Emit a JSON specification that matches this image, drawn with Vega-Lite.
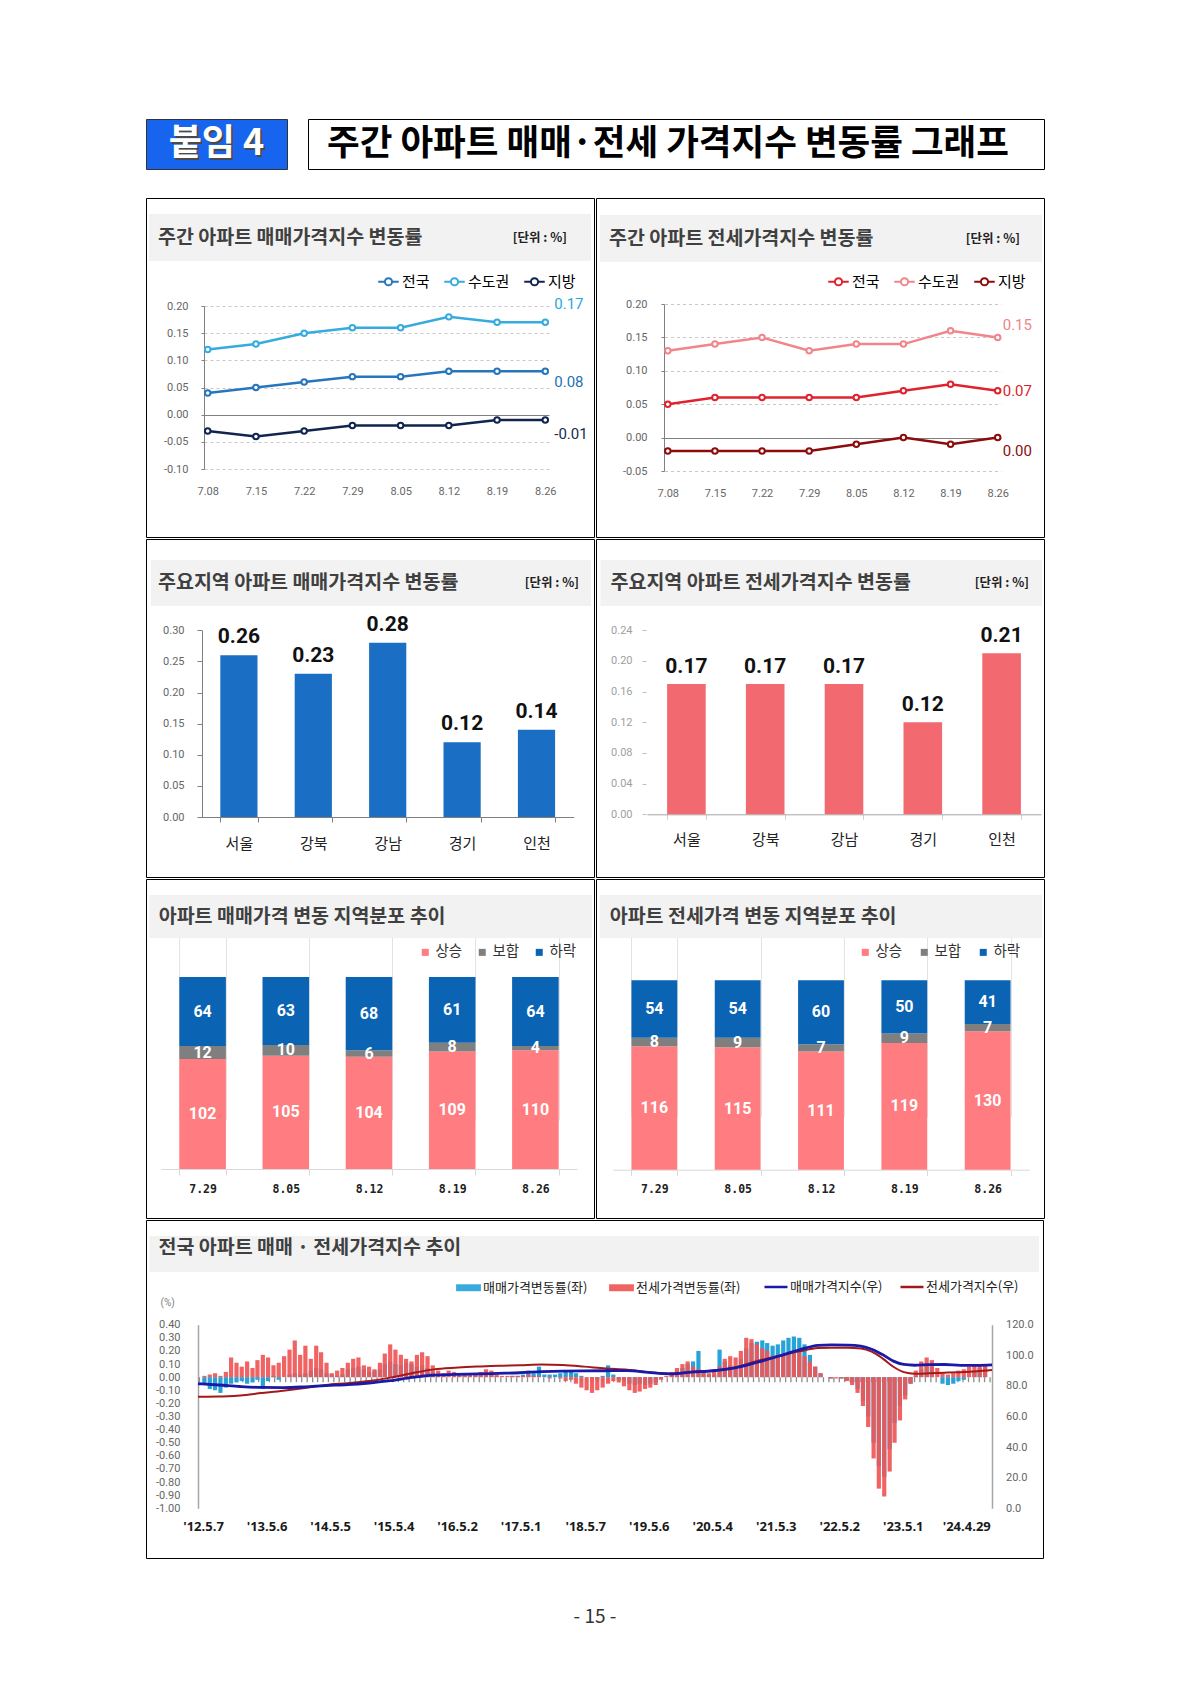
{
  "$schema": "https://vega.github.io/schema/vega-lite/v6.json",
  "padding": {"left": 145, "top": 118, "right": 5, "bottom": 5},
  "background": "white",
  "title": {"text": "- 15 -", "orient": "bottom", "anchor": "middle", "offset": 49, "fontSize": 19, "fontWeight": "normal", "font": "Noto Sans CJK KR", "color": "#333333", "baseline": "top"},
  "config": {
    "view": {"stroke": "#000000", "strokeWidth": 1},
    "font": "Noto Sans CJK KR",
    "locale": {"number": {"decimal": ".", "thousands": ",", "grouping": [3], "currency": ["", ""], "minus": "-"}},
    "axis": {"labelOverlap": false, "labelFlush": false, "labelFont": "Roboto"},
    "legend": {"labelFont": "Noto Sans CJK KR", "padding": 0}
  },
  "resolve": {"scale": {"color": "independent", "stroke": "independent"}, "legend": {"color": "independent", "stroke": "independent"}},
  "datasets": {
    "p1": [
      {"w": "7.08", "g": "전국", "v": 0.04}, {"w": "7.15", "g": "전국", "v": 0.05}, {"w": "7.22", "g": "전국", "v": 0.06}, {"w": "7.29", "g": "전국", "v": 0.07},
      {"w": "8.05", "g": "전국", "v": 0.07}, {"w": "8.12", "g": "전국", "v": 0.08}, {"w": "8.19", "g": "전국", "v": 0.08}, {"w": "8.26", "g": "전국", "v": 0.08},
      {"w": "7.08", "g": "수도권", "v": 0.12}, {"w": "7.15", "g": "수도권", "v": 0.13}, {"w": "7.22", "g": "수도권", "v": 0.15}, {"w": "7.29", "g": "수도권", "v": 0.16},
      {"w": "8.05", "g": "수도권", "v": 0.16}, {"w": "8.12", "g": "수도권", "v": 0.18}, {"w": "8.19", "g": "수도권", "v": 0.17}, {"w": "8.26", "g": "수도권", "v": 0.17},
      {"w": "7.08", "g": "지방", "v": -0.03}, {"w": "7.15", "g": "지방", "v": -0.04}, {"w": "7.22", "g": "지방", "v": -0.03}, {"w": "7.29", "g": "지방", "v": -0.02},
      {"w": "8.05", "g": "지방", "v": -0.02}, {"w": "8.12", "g": "지방", "v": -0.02}, {"w": "8.19", "g": "지방", "v": -0.01}, {"w": "8.26", "g": "지방", "v": -0.01}
    ],
    "p2": [
      {"w": "7.08", "g": "전국", "v": 0.05}, {"w": "7.15", "g": "전국", "v": 0.06}, {"w": "7.22", "g": "전국", "v": 0.06}, {"w": "7.29", "g": "전국", "v": 0.06},
      {"w": "8.05", "g": "전국", "v": 0.06}, {"w": "8.12", "g": "전국", "v": 0.07}, {"w": "8.19", "g": "전국", "v": 0.08}, {"w": "8.26", "g": "전국", "v": 0.07},
      {"w": "7.08", "g": "수도권", "v": 0.13}, {"w": "7.15", "g": "수도권", "v": 0.14}, {"w": "7.22", "g": "수도권", "v": 0.15}, {"w": "7.29", "g": "수도권", "v": 0.13},
      {"w": "8.05", "g": "수도권", "v": 0.14}, {"w": "8.12", "g": "수도권", "v": 0.14}, {"w": "8.19", "g": "수도권", "v": 0.16}, {"w": "8.26", "g": "수도권", "v": 0.15},
      {"w": "7.08", "g": "지방", "v": -0.02}, {"w": "7.15", "g": "지방", "v": -0.02}, {"w": "7.22", "g": "지방", "v": -0.02}, {"w": "7.29", "g": "지방", "v": -0.02},
      {"w": "8.05", "g": "지방", "v": -0.01}, {"w": "8.12", "g": "지방", "v": 0.0}, {"w": "8.19", "g": "지방", "v": -0.01}, {"w": "8.26", "g": "지방", "v": 0.0}
    ],
    "p3": [
      {"r": "서울", "v": 0.26}, {"r": "강북", "v": 0.23}, {"r": "강남", "v": 0.28}, {"r": "경기", "v": 0.12}, {"r": "인천", "v": 0.14}
    ],
    "p4": [
      {"r": "서울", "v": 0.17}, {"r": "강북", "v": 0.17}, {"r": "강남", "v": 0.17}, {"r": "경기", "v": 0.12}, {"r": "인천", "v": 0.21}
    ],
    "p5": [
      {"d": "7.29", "c": "상승", "n": 102}, {"d": "7.29", "c": "보합", "n": 12}, {"d": "7.29", "c": "하락", "n": 64},
      {"d": "8.05", "c": "상승", "n": 105}, {"d": "8.05", "c": "보합", "n": 10}, {"d": "8.05", "c": "하락", "n": 63},
      {"d": "8.12", "c": "상승", "n": 104}, {"d": "8.12", "c": "보합", "n": 6}, {"d": "8.12", "c": "하락", "n": 68},
      {"d": "8.19", "c": "상승", "n": 109}, {"d": "8.19", "c": "보합", "n": 8}, {"d": "8.19", "c": "하락", "n": 61},
      {"d": "8.26", "c": "상승", "n": 110}, {"d": "8.26", "c": "보합", "n": 4}, {"d": "8.26", "c": "하락", "n": 64}
    ],
    "p6": [
      {"d": "7.29", "c": "상승", "n": 116}, {"d": "7.29", "c": "보합", "n": 8}, {"d": "7.29", "c": "하락", "n": 54},
      {"d": "8.05", "c": "상승", "n": 115}, {"d": "8.05", "c": "보합", "n": 9}, {"d": "8.05", "c": "하락", "n": 54},
      {"d": "8.12", "c": "상승", "n": 111}, {"d": "8.12", "c": "보합", "n": 7}, {"d": "8.12", "c": "하락", "n": 60},
      {"d": "8.19", "c": "상승", "n": 119}, {"d": "8.19", "c": "보합", "n": 9}, {"d": "8.19", "c": "하락", "n": 50},
      {"d": "8.26", "c": "상승", "n": 130}, {"d": "8.26", "c": "보합", "n": 7}, {"d": "8.26", "c": "하락", "n": 41}
    ],
    "bars": [
      {"d": "2012-05-15", "s": -0.06, "j": 0.01}, {"d": "2012-06-15", "s": -0.09, "j": 0.02}, {"d": "2012-07-15", "s": -0.10, "j": 0.03}, {"d": "2012-08-15", "s": -0.12, "j": 0.01},
      {"d": "2012-09-15", "s": -0.08, "j": 0.04}, {"d": "2012-10-15", "s": -0.05, "j": 0.15}, {"d": "2012-11-15", "s": -0.04, "j": 0.11}, {"d": "2012-12-15", "s": -0.03, "j": 0.08},
      {"d": "2013-01-15", "s": -0.05, "j": 0.12}, {"d": "2013-02-15", "s": -0.04, "j": 0.07}, {"d": "2013-03-15", "s": -0.02, "j": 0.13}, {"d": "2013-04-15", "s": -0.09, "j": 0.17},
      {"d": "2013-05-15", "s": -0.03, "j": 0.15}, {"d": "2013-06-15", "s": 0.01, "j": 0.09}, {"d": "2013-07-15", "s": -0.02, "j": 0.11}, {"d": "2013-08-15", "s": 0.0, "j": 0.16},
      {"d": "2013-09-15", "s": 0.02, "j": 0.21}, {"d": "2013-10-15", "s": 0.03, "j": 0.28}, {"d": "2013-11-15", "s": 0.02, "j": 0.17}, {"d": "2013-12-15", "s": 0.03, "j": 0.24},
      {"d": "2014-01-15", "s": 0.05, "j": 0.14}, {"d": "2014-02-15", "s": 0.07, "j": 0.24}, {"d": "2014-03-15", "s": 0.06, "j": 0.19}, {"d": "2014-04-15", "s": 0.03, "j": 0.11},
      {"d": "2014-05-15", "s": 0.02, "j": 0.03}, {"d": "2014-06-15", "s": 0.01, "j": 0.05}, {"d": "2014-07-15", "s": 0.02, "j": 0.07}, {"d": "2014-08-15", "s": 0.06, "j": 0.11},
      {"d": "2014-09-15", "s": 0.07, "j": 0.14}, {"d": "2014-10-15", "s": 0.08, "j": 0.15}, {"d": "2014-11-15", "s": 0.06, "j": 0.09}, {"d": "2014-12-15", "s": 0.04, "j": 0.08},
      {"d": "2015-01-15", "s": 0.05, "j": 0.06}, {"d": "2015-02-15", "s": 0.06, "j": 0.11}, {"d": "2015-03-15", "s": 0.10, "j": 0.18}, {"d": "2015-04-15", "s": 0.12, "j": 0.25},
      {"d": "2015-05-15", "s": 0.10, "j": 0.21}, {"d": "2015-06-15", "s": 0.09, "j": 0.17}, {"d": "2015-07-15", "s": 0.11, "j": 0.14}, {"d": "2015-08-15", "s": 0.10, "j": 0.12},
      {"d": "2015-09-15", "s": 0.08, "j": 0.17}, {"d": "2015-10-15", "s": 0.09, "j": 0.19}, {"d": "2015-11-15", "s": 0.07, "j": 0.16}, {"d": "2015-12-15", "s": 0.04, "j": 0.09},
      {"d": "2016-01-15", "s": 0.02, "j": 0.05}, {"d": "2016-02-15", "s": 0.01, "j": 0.03}, {"d": "2016-03-15", "s": 0.0, "j": 0.05}, {"d": "2016-04-15", "s": 0.01, "j": 0.04},
      {"d": "2016-05-15", "s": 0.02, "j": 0.03}, {"d": "2016-06-15", "s": 0.03, "j": 0.03}, {"d": "2016-07-15", "s": 0.02, "j": 0.02}, {"d": "2016-08-15", "s": 0.02, "j": 0.03},
      {"d": "2016-09-15", "s": 0.02, "j": 0.04}, {"d": "2016-10-15", "s": 0.04, "j": 0.06}, {"d": "2016-11-15", "s": 0.03, "j": 0.05}, {"d": "2016-12-15", "s": 0.01, "j": 0.02},
      {"d": "2017-01-15", "s": 0.0, "j": 0.01}, {"d": "2017-02-15", "s": 0.0, "j": 0.01}, {"d": "2017-03-15", "s": 0.01, "j": 0.01}, {"d": "2017-04-15", "s": 0.01, "j": 0.01},
      {"d": "2017-05-15", "s": 0.02, "j": 0.01}, {"d": "2017-06-15", "s": 0.05, "j": 0.02}, {"d": "2017-07-15", "s": 0.03, "j": 0.01}, {"d": "2017-08-15", "s": 0.08, "j": 0.01},
      {"d": "2017-09-15", "s": 0.02, "j": 0.0}, {"d": "2017-10-15", "s": 0.02, "j": -0.01}, {"d": "2017-11-15", "s": 0.02, "j": 0.0}, {"d": "2017-12-15", "s": 0.03, "j": -0.01},
      {"d": "2018-01-15", "s": 0.04, "j": -0.03}, {"d": "2018-02-15", "s": 0.05, "j": -0.02}, {"d": "2018-03-15", "s": 0.03, "j": -0.05}, {"d": "2018-04-15", "s": 0.01, "j": -0.08},
      {"d": "2018-05-15", "s": 0.0, "j": -0.10}, {"d": "2018-06-15", "s": -0.01, "j": -0.12}, {"d": "2018-07-15", "s": -0.02, "j": -0.10}, {"d": "2018-08-15", "s": 0.01, "j": -0.08},
      {"d": "2018-09-15", "s": 0.09, "j": -0.05}, {"d": "2018-10-15", "s": 0.02, "j": -0.03}, {"d": "2018-11-15", "s": -0.02, "j": -0.04}, {"d": "2018-12-15", "s": -0.03, "j": -0.07},
      {"d": "2019-01-15", "s": -0.05, "j": -0.10}, {"d": "2019-02-15", "s": -0.06, "j": -0.12}, {"d": "2019-03-15", "s": -0.05, "j": -0.11}, {"d": "2019-04-15", "s": -0.06, "j": -0.09},
      {"d": "2019-05-15", "s": -0.05, "j": -0.08}, {"d": "2019-06-15", "s": -0.04, "j": -0.06}, {"d": "2019-07-15", "s": -0.01, "j": -0.02}, {"d": "2019-08-15", "s": 0.0, "j": 0.01},
      {"d": "2019-09-15", "s": 0.02, "j": 0.04}, {"d": "2019-10-15", "s": 0.05, "j": 0.07}, {"d": "2019-11-15", "s": 0.07, "j": 0.10}, {"d": "2019-12-15", "s": 0.10, "j": 0.12},
      {"d": "2020-01-15", "s": 0.12, "j": 0.08}, {"d": "2020-02-15", "s": 0.20, "j": 0.06}, {"d": "2020-03-15", "s": 0.05, "j": 0.05}, {"d": "2020-04-15", "s": 0.02, "j": 0.03},
      {"d": "2020-05-15", "s": 0.02, "j": 0.05}, {"d": "2020-06-15", "s": 0.21, "j": 0.08}, {"d": "2020-07-15", "s": 0.12, "j": 0.14}, {"d": "2020-08-15", "s": 0.09, "j": 0.16},
      {"d": "2020-09-15", "s": 0.08, "j": 0.15}, {"d": "2020-10-15", "s": 0.14, "j": 0.20}, {"d": "2020-11-15", "s": 0.22, "j": 0.30}, {"d": "2020-12-15", "s": 0.26, "j": 0.29},
      {"d": "2021-01-15", "s": 0.27, "j": 0.25}, {"d": "2021-02-15", "s": 0.28, "j": 0.22}, {"d": "2021-03-15", "s": 0.26, "j": 0.20}, {"d": "2021-04-15", "s": 0.24, "j": 0.16},
      {"d": "2021-05-15", "s": 0.25, "j": 0.15}, {"d": "2021-06-15", "s": 0.28, "j": 0.17}, {"d": "2021-07-15", "s": 0.30, "j": 0.18}, {"d": "2021-08-15", "s": 0.31, "j": 0.20},
      {"d": "2021-09-15", "s": 0.30, "j": 0.19}, {"d": "2021-10-15", "s": 0.25, "j": 0.16}, {"d": "2021-11-15", "s": 0.17, "j": 0.12}, {"d": "2021-12-15", "s": 0.08, "j": 0.08},
      {"d": "2022-01-15", "s": 0.03, "j": 0.03}, {"d": "2022-02-15", "s": 0.0, "j": 0.0}, {"d": "2022-03-15", "s": -0.01, "j": -0.01}, {"d": "2022-04-15", "s": 0.0, "j": -0.01},
      {"d": "2022-05-15", "s": -0.01, "j": -0.01}, {"d": "2022-06-15", "s": -0.02, "j": -0.03}, {"d": "2022-07-15", "s": -0.04, "j": -0.06}, {"d": "2022-08-15", "s": -0.09, "j": -0.12},
      {"d": "2022-09-15", "s": -0.18, "j": -0.22}, {"d": "2022-10-15", "s": -0.30, "j": -0.38}, {"d": "2022-11-15", "s": -0.50, "j": -0.62}, {"d": "2022-12-15", "s": -0.68, "j": -0.85},
      {"d": "2023-01-15", "s": -0.76, "j": -0.91}, {"d": "2023-02-15", "s": -0.55, "j": -0.72}, {"d": "2023-03-15", "s": -0.35, "j": -0.50}, {"d": "2023-04-15", "s": -0.22, "j": -0.33},
      {"d": "2023-05-15", "s": -0.14, "j": -0.17}, {"d": "2023-06-15", "s": -0.05, "j": -0.05}, {"d": "2023-07-15", "s": 0.01, "j": 0.05}, {"d": "2023-08-15", "s": 0.06, "j": 0.12},
      {"d": "2023-09-15", "s": 0.09, "j": 0.15}, {"d": "2023-10-15", "s": 0.08, "j": 0.13}, {"d": "2023-11-15", "s": 0.0, "j": 0.07}, {"d": "2023-12-15", "s": -0.05, "j": 0.03},
      {"d": "2024-01-15", "s": -0.06, "j": 0.02}, {"d": "2024-02-15", "s": -0.05, "j": 0.03}, {"d": "2024-03-15", "s": -0.03, "j": 0.05}, {"d": "2024-04-15", "s": -0.02, "j": 0.06},
      {"d": "2024-05-15", "s": 0.0, "j": 0.08}, {"d": "2024-06-15", "s": 0.04, "j": 0.09}, {"d": "2024-07-15", "s": 0.07, "j": 0.10}, {"d": "2024-08-15", "s": 0.08, "j": 0.10}
    ],
    "idx": [
      {"d": "2012-05-07", "si": 81.4, "ji": 72.9}, {"d": "2012-09-01", "si": 80.6, "ji": 73.0}, {"d": "2013-01-01", "si": 79.6, "ji": 73.8},
      {"d": "2013-05-01", "si": 79.0, "ji": 75.3}, {"d": "2013-09-01", "si": 78.9, "ji": 76.8}, {"d": "2014-01-01", "si": 79.4, "ji": 78.6},
      {"d": "2014-05-01", "si": 80.2, "ji": 80.6}, {"d": "2014-09-01", "si": 80.8, "ji": 81.8}, {"d": "2015-01-01", "si": 81.9, "ji": 83.2},
      {"d": "2015-05-01", "si": 83.4, "ji": 85.4}, {"d": "2015-09-01", "si": 85.6, "ji": 88.3}, {"d": "2016-01-01", "si": 87.1, "ji": 90.8},
      {"d": "2016-05-01", "si": 87.5, "ji": 91.9}, {"d": "2016-09-01", "si": 87.8, "ji": 92.6}, {"d": "2017-01-01", "si": 88.2, "ji": 93.2},
      {"d": "2017-05-01", "si": 88.6, "ji": 93.5}, {"d": "2017-09-01", "si": 89.3, "ji": 94.0}, {"d": "2018-01-01", "si": 89.7, "ji": 93.6},
      {"d": "2018-05-01", "si": 89.8, "ji": 92.6}, {"d": "2018-09-01", "si": 89.9, "ji": 91.4}, {"d": "2019-01-01", "si": 90.0, "ji": 90.6},
      {"d": "2019-05-01", "si": 88.8, "ji": 89.0}, {"d": "2019-09-01", "si": 87.9, "ji": 88.0}, {"d": "2020-01-01", "si": 89.0, "ji": 89.2},
      {"d": "2020-05-01", "si": 89.9, "ji": 90.0}, {"d": "2020-09-01", "si": 91.8, "ji": 92.0}, {"d": "2021-01-01", "si": 95.3, "ji": 96.2},
      {"d": "2021-05-01", "si": 99.2, "ji": 99.5}, {"d": "2021-09-01", "si": 103.6, "ji": 102.6}, {"d": "2021-12-15", "si": 106.5, "ji": 104.8},
      {"d": "2022-03-01", "si": 106.8, "ji": 105.0}, {"d": "2022-06-01", "si": 106.7, "ji": 105.0}, {"d": "2022-08-15", "si": 106.0, "ji": 104.5},
      {"d": "2022-10-15", "si": 104.0, "ji": 102.4}, {"d": "2022-12-15", "si": 100.5, "ji": 98.0}, {"d": "2023-02-15", "si": 96.2, "ji": 92.5},
      {"d": "2023-04-15", "si": 94.0, "ji": 89.0}, {"d": "2023-06-15", "si": 93.5, "ji": 88.0}, {"d": "2023-09-01", "si": 93.9, "ji": 88.2},
      {"d": "2023-12-01", "si": 94.0, "ji": 88.6}, {"d": "2024-03-01", "si": 93.4, "ji": 89.0}, {"d": "2024-06-01", "si": 93.4, "ji": 89.6},
      {"d": "2024-08-26", "si": 93.7, "ji": 90.4}
    ]
  },
  "spacing": 27,
  "vconcat": [
    {
      "spacing": 19,
      "hconcat": [
        {
          "width": 141, "height": 50,
          "view": {"fill": "#1764ef", "stroke": "#333333"},
          "data": {"values": [{"t": "붙임 4"}]},
          "layer": [
            {"mark": {"type": "text", "fontSize": 36, "fontWeight": "bold", "color": "#4a4a4a", "dx": 2, "dy": 2}, "encoding": {"text": {"field": "t"}}},
            {"mark": {"type": "text", "fontSize": 36, "fontWeight": "bold", "color": "#ffffff"}, "encoding": {"text": {"field": "t"}}}
          ]
        },
        {
          "width": 736, "height": 50,
          "view": {"fill": "#ffffff", "stroke": "#000000"},
          "data": {"values": [{"t": "주간 아파트 매매·전세 가격지수 변동률 그래프"}]},
          "mark": {"type": "text", "fontSize": 35.5, "fontWeight": "bold", "color": "#000000", "dx": -8},
          "encoding": {"text": {"field": "t"}}
        }
      ]
    },
    {
      "spacing": 0,
      "resolve": {"scale": {"color": "independent", "stroke": "independent"}, "legend": {"color": "independent", "stroke": "independent"}},
      "vconcat": [
        {
          "spacing": 0,
          "resolve": {"scale": {"color": "independent", "stroke": "independent"}, "legend": {"color": "independent", "stroke": "independent"}},
          "hconcat": [
            {
              "width": 448, "height": 339,
              "resolve": {"scale": {"x": "independent", "y": "independent"}},
              "layer": [
                {
                  "data": {"values": [{"b": "t", "title": "주간 아파트 매매가격지수 변동률", "unit": "[단위 : %]"}]},
                  "encoding": {
                    "x": {"field": "b", "type": "nominal", "axis": null, "scale": {"range": [3, 445], "paddingInner": 0, "paddingOuter": 0}},
                    "y": {"field": "b", "type": "nominal", "axis": null, "scale": {"range": [16, 63], "paddingInner": 0, "paddingOuter": 0}}
                  },
                  "layer": [
                    {"mark": {"type": "rect", "color": "#f2f2f2"}},
                    {"mark": {"type": "text", "align": "left", "baseline": "middle", "dx": 9, "fontSize": 19.5, "fontWeight": "bold", "color": "#404040"}, "encoding": {"x": {"field": "b", "type": "nominal", "axis": null, "bandPosition": 0}, "text": {"field": "title"}}},
                    {"mark": {"type": "text", "align": "right", "baseline": "middle", "dx": -24, "fontSize": 12.5, "fontWeight": "bold", "color": "#222222"}, "encoding": {"x": {"field": "b", "type": "nominal", "axis": null, "bandPosition": 1}, "text": {"field": "unit"}}}
                  ]
                },
                {
                  "data": {"name": "p1"},
                  "encoding": {
                    "x": {"field": "w", "type": "ordinal", "title": null, "scale": {"type": "point", "range": [58, 403], "padding": 0.077},
                      "axis": {"orient": "bottom", "offset": -68, "domain": false, "ticks": false, "labelPadding": 16, "labelFontSize": 11, "labelColor": "#666666", "labelAngle": 0}},
                    "y": {"field": "v", "type": "quantitative", "title": null, "scale": {"domain": [-0.1, 0.2], "range": [271, 108], "nice": false, "zero": false},
                      "axis": {"orient": "left", "offset": -58, "values": [-0.1, -0.05, 0, 0.05, 0.1, 0.15, 0.2], "format": ".2f", "grid": true, "labelOverlap": false,
                        "gridDash": {"condition": {"test": "datum.value === 0", "value": []}, "value": [3, 3]},
                        "gridColor": {"condition": {"test": "datum.value === 0", "value": "#808080"}, "value": "#c8c8c8"},
                        "domainColor": "#808080", "tickColor": "#808080", "tickSize": 3, "labelPadding": 13, "labelFontSize": 11, "labelColor": "#666666"}},
                    "color": {"field": "g", "type": "nominal", "scale": {"domain": ["전국", "수도권", "지방"], "range": ["#2676bd", "#36abdf", "#10244f"]},
                      "legend": {"orient": "none", "legendX": 231, "legendY": 72, "direction": "horizontal", "title": null,
                        "symbolType": "M-1,0L-0.35,0M0.35,0L1,0M-0.35,0A0.35,0.35,0,1,0,0.35,0A0.35,0.35,0,1,0,-0.35,0",
                        "symbolSize": 420, "symbolStrokeWidth": 2, "labelFontSize": 15, "labelColor": "#000000", "columnPadding": 10, "labelOffset": 2,
                        "encode": {"symbols": {"update": {"fill": {"value": "#ffffff"}, "strokeWidth": {"value": 2}}}}}}
                  },
                  "layer": [
                    {"mark": {"type": "line", "strokeWidth": 2.5}},
                    {"mark": {"type": "point", "filled": false, "fill": "#ffffff", "size": 30, "strokeWidth": 2, "opacity": 1}},
                    {"transform": [{"filter": "datum.w === '8.26' && datum.g === '수도권'"}], "mark": {"type": "text", "align": "left", "baseline": "middle", "dx": 9, "dy": -18, "fontSize": 15, "font": "Roboto"}, "encoding": {"text": {"field": "v", "format": ".2f"}, "color": {"value": "#25a8df"}}},
                    {"transform": [{"filter": "datum.w === '8.26' && datum.g === '전국'"}], "mark": {"type": "text", "align": "left", "baseline": "middle", "dx": 9, "dy": 11, "fontSize": 15, "font": "Roboto"}, "encoding": {"text": {"field": "v", "format": ".2f"}, "color": {"value": "#2272b5"}}},
                    {"transform": [{"filter": "datum.w === '8.26' && datum.g === '지방'"}], "mark": {"type": "text", "align": "left", "baseline": "middle", "dx": 9, "dy": 14, "fontSize": 15, "font": "Roboto"}, "encoding": {"text": {"field": "v", "format": ".2f"}, "color": {"value": "#17294a"}}}
                  ]
                }
              ]
            },
            {
              "width": 448, "height": 339,
              "resolve": {"scale": {"x": "independent", "y": "independent"}},
              "layer": [
                {
                  "data": {"values": [{"b": "t", "title": "주간 아파트 전세가격지수 변동률", "unit": "[단위 : %]"}]},
                  "encoding": {
                    "x": {"field": "b", "type": "nominal", "axis": null, "scale": {"range": [4, 446], "paddingInner": 0, "paddingOuter": 0}},
                    "y": {"field": "b", "type": "nominal", "axis": null, "scale": {"range": [17, 64], "paddingInner": 0, "paddingOuter": 0}}
                  },
                  "layer": [
                    {"mark": {"type": "rect", "color": "#f2f2f2"}},
                    {"mark": {"type": "text", "align": "left", "baseline": "middle", "dx": 9, "fontSize": 19.5, "fontWeight": "bold", "color": "#404040"}, "encoding": {"x": {"field": "b", "type": "nominal", "axis": null, "bandPosition": 0}, "text": {"field": "title"}}},
                    {"mark": {"type": "text", "align": "right", "baseline": "middle", "dx": -22, "fontSize": 12.5, "fontWeight": "bold", "color": "#222222"}, "encoding": {"x": {"field": "b", "type": "nominal", "axis": null, "bandPosition": 1}, "text": {"field": "unit"}}}
                  ]
                },
                {
                  "data": {"name": "p2"},
                  "encoding": {
                    "x": {"field": "w", "type": "ordinal", "title": null, "scale": {"type": "point", "range": [68.5, 405], "padding": 0.07},
                      "axis": {"orient": "bottom", "offset": -66, "domain": false, "ticks": false, "labelPadding": 16, "labelFontSize": 11, "labelColor": "#666666", "labelAngle": 0}},
                    "y": {"field": "v", "type": "quantitative", "title": null, "scale": {"domain": [-0.05, 0.2], "range": [273, 106], "nice": false, "zero": false},
                      "axis": {"orient": "left", "offset": -68, "values": [-0.05, 0, 0.05, 0.1, 0.15, 0.2], "format": ".2f", "grid": true, "labelOverlap": false,
                        "gridDash": {"condition": {"test": "datum.value === 0", "value": []}, "value": [3, 3]},
                        "gridColor": {"condition": {"test": "datum.value === 0", "value": "#808080"}, "value": "#c8c8c8"},
                        "domainColor": "#808080", "tickColor": "#808080", "tickSize": 3, "labelPadding": 14, "labelFontSize": 11, "labelColor": "#666666"}},
                    "color": {"field": "g", "type": "nominal", "scale": {"domain": ["전국", "수도권", "지방"], "range": ["#e0222e", "#f0868b", "#8c0c0c"]},
                      "legend": {"orient": "none", "legendX": 231, "legendY": 72, "direction": "horizontal", "title": null,
                        "symbolType": "M-1,0L-0.35,0M0.35,0L1,0M-0.35,0A0.35,0.35,0,1,0,0.35,0A0.35,0.35,0,1,0,-0.35,0",
                        "symbolSize": 420, "symbolStrokeWidth": 2, "labelFontSize": 15, "labelColor": "#000000", "columnPadding": 10, "labelOffset": 2,
                        "encode": {"symbols": {"update": {"fill": {"value": "#ffffff"}, "strokeWidth": {"value": 2}}}}}}
                  },
                  "layer": [
                    {"mark": {"type": "line", "strokeWidth": 2.5}},
                    {"mark": {"type": "point", "filled": false, "fill": "#ffffff", "size": 30, "strokeWidth": 2, "opacity": 1}},
                    {"transform": [{"filter": "datum.w === '8.26' && datum.g === '수도권'"}], "mark": {"type": "text", "align": "left", "baseline": "middle", "dx": 5, "dy": -12, "fontSize": 15, "font": "Roboto"}, "encoding": {"text": {"field": "v", "format": ".2f"}, "color": {"value": "#ef8489"}}},
                    {"transform": [{"filter": "datum.w === '8.26' && datum.g === '전국'"}], "mark": {"type": "text", "align": "left", "baseline": "middle", "dx": 5, "dy": 0, "fontSize": 15, "font": "Roboto"}, "encoding": {"text": {"field": "v", "format": ".2f"}, "color": {"value": "#d81f2d"}}},
                    {"transform": [{"filter": "datum.w === '8.26' && datum.g === '지방'"}], "mark": {"type": "text", "align": "left", "baseline": "middle", "dx": 5, "dy": 13, "fontSize": 15, "font": "Roboto"}, "encoding": {"text": {"field": "v", "format": ".2f"}, "color": {"value": "#8a0d0d"}}}
                  ]
                }
              ]
            }
          ]
        },
        {
          "spacing": 0,
          "resolve": {"scale": {"color": "independent", "stroke": "independent"}, "legend": {"color": "independent", "stroke": "independent"}},
          "hconcat": [
            {
              "width": 448, "height": 338,
              "resolve": {"scale": {"x": "independent", "y": "independent"}},
              "layer": [
                {
                  "data": {"values": [{"b": "t", "title": "주요지역 아파트 매매가격지수 변동률", "unit": "[단위 : %]"}]},
                  "encoding": {
                    "x": {"field": "b", "type": "nominal", "axis": null, "scale": {"range": [5, 445], "paddingInner": 0, "paddingOuter": 0}},
                    "y": {"field": "b", "type": "nominal", "axis": null, "scale": {"range": [21, 67], "paddingInner": 0, "paddingOuter": 0}}
                  },
                  "layer": [
                    {"mark": {"type": "rect", "color": "#f2f2f2"}},
                    {"mark": {"type": "text", "align": "left", "baseline": "middle", "dx": 7, "fontSize": 19.5, "fontWeight": "bold", "color": "#404040"}, "encoding": {"x": {"field": "b", "type": "nominal", "axis": null, "bandPosition": 0}, "text": {"field": "title"}}},
                    {"mark": {"type": "text", "align": "right", "baseline": "middle", "dx": -12, "fontSize": 12.5, "fontWeight": "bold", "color": "#222222"}, "encoding": {"x": {"field": "b", "type": "nominal", "axis": null, "bandPosition": 1}, "text": {"field": "unit"}}}
                  ]
                },
                {
                  "data": {"name": "p3"},
                  "encoding": {
                    "x": {"field": "r", "type": "nominal", "title": null, "sort": ["서울", "강북", "강남", "경기", "인천"],
                      "scale": {"range": [55.7, 427.7], "paddingInner": 0.5, "paddingOuter": 0.25},
                      "axis": {"orient": "bottom", "offset": -60, "labelAngle": 0, "domainColor": "#7f7f7f", "tickColor": "#7f7f7f", "tickBand": "extent", "tickSize": 5, "labelPadding": 14, "labelFontSize": 15, "labelColor": "#222222", "labelFont": "Noto Sans CJK KR"}},
                    "y": {"field": "v", "type": "quantitative", "title": null, "scale": {"domain": [0, 0.3], "range": [278, 91.3], "nice": false},
                      "axis": {"orient": "left", "offset": -56, "values": [0, 0.05, 0.1, 0.15, 0.2, 0.25, 0.3], "format": ".2f", "grid": false, "labelOverlap": false, "domainColor": "#7f7f7f", "tickColor": "#7f7f7f", "tickSize": 5, "labelPadding": 13, "labelFontSize": 11, "labelColor": "#666666"}}
                  },
                  "layer": [
                    {"mark": {"type": "bar", "color": "#1a6fc4"}},
                    {"mark": {"type": "text", "baseline": "middle", "dy": -18, "fontSize": 21, "fontWeight": "bold", "color": "#111111", "font": "Roboto"}, "encoding": {"text": {"field": "v", "format": ".2f"}}}
                  ]
                }
              ]
            },
            {
              "width": 448, "height": 338,
              "resolve": {"scale": {"x": "independent", "y": "independent"}},
              "layer": [
                {
                  "data": {"values": [{"b": "t", "title": "주요지역 아파트 전세가격지수 변동률", "unit": "[단위 : %]"}]},
                  "encoding": {
                    "x": {"field": "b", "type": "nominal", "axis": null, "scale": {"range": [4.5, 446], "paddingInner": 0, "paddingOuter": 0}},
                    "y": {"field": "b", "type": "nominal", "axis": null, "scale": {"range": [21, 67], "paddingInner": 0, "paddingOuter": 0}}
                  },
                  "layer": [
                    {"mark": {"type": "rect", "color": "#f2f2f2"}},
                    {"mark": {"type": "text", "align": "left", "baseline": "middle", "dx": 10, "fontSize": 19.5, "fontWeight": "bold", "color": "#404040"}, "encoding": {"x": {"field": "b", "type": "nominal", "axis": null, "bandPosition": 0}, "text": {"field": "title"}}},
                    {"mark": {"type": "text", "align": "right", "baseline": "middle", "dx": -13, "fontSize": 12.5, "fontWeight": "bold", "color": "#222222"}, "encoding": {"x": {"field": "b", "type": "nominal", "axis": null, "bandPosition": 1}, "text": {"field": "unit"}}}
                  ]
                },
                {
                  "data": {"name": "p4"},
                  "encoding": {
                    "x": {"field": "r", "type": "nominal", "title": null, "sort": ["서울", "강북", "강남", "경기", "인천"],
                      "scale": {"range": [51, 445], "paddingInner": 0.51, "paddingOuter": 0.255},
                      "axis": {"orient": "bottom", "offset": -62.7, "labelAngle": 0, "domainColor": "#a6a6a6", "tickColor": "#d0d0d0", "tickBand": "extent", "tickSize": 5, "labelPadding": 13, "labelFontSize": 15, "labelColor": "#222222", "labelFont": "Noto Sans CJK KR"}},
                    "y": {"field": "v", "type": "quantitative", "title": null, "scale": {"domain": [0, 0.24], "range": [275.3, 91.3], "nice": false},
                      "axis": {"orient": "left", "offset": -50, "values": [0, 0.04, 0.08, 0.12, 0.16, 0.2, 0.24], "format": ".2f", "grid": false, "labelOverlap": false, "domain": false, "tickColor": "#bfbfbf", "tickSize": 4, "labelPadding": 10, "labelFontSize": 11, "labelColor": "#a0a0a0"}}
                  },
                  "layer": [
                    {"mark": {"type": "bar", "color": "#f26a70"}},
                    {"mark": {"type": "text", "baseline": "middle", "dy": -17, "fontSize": 21, "fontWeight": "bold", "color": "#111111", "font": "Roboto"}, "encoding": {"text": {"field": "v", "format": ".2f"}}}
                  ]
                }
              ]
            }
          ]
        },
        {
          "spacing": 0,
          "resolve": {"scale": {"color": "independent", "stroke": "independent"}, "legend": {"color": "independent", "stroke": "independent"}},
          "hconcat": [
            {
              "width": 448, "height": 339,
              "resolve": {"scale": {"x": "independent", "y": "independent"}},
              "layer": [
                {
                  "data": {"values": [{"b": "t", "title": "아파트 매매가격 변동 지역분포 추이"}]},
                  "encoding": {
                    "x": {"field": "b", "type": "nominal", "axis": null, "scale": {"range": [3.3, 446], "paddingInner": 0, "paddingOuter": 0}},
                    "y": {"field": "b", "type": "nominal", "axis": null, "scale": {"range": [16, 59], "paddingInner": 0, "paddingOuter": 0}}
                  },
                  "layer": [
                    {"mark": {"type": "rect", "color": "#f2f2f2"}},
                    {"mark": {"type": "text", "align": "left", "baseline": "middle", "dx": 9.4, "fontSize": 19.5, "fontWeight": "bold", "color": "#404040"}, "encoding": {"x": {"field": "b", "type": "nominal", "axis": null, "bandPosition": 0}, "text": {"field": "title"}}}
                  ]
                },
                {
                  "data": {"name": "p5"},
                  "transform": [{"window": [{"op": "row_number", "as": "k"}], "groupby": ["d"]}],
                  "encoding": {
                    "x": {"field": "d", "type": "ordinal", "title": null,
                      "scale": {"range": [15, 431], "paddingInner": 0.44, "paddingOuter": 0.22},
                      "axis": {"orient": "bottom", "offset": -49, "labelAngle": 0, "domainColor": "#d9d9d9", "tickColor": "#d9d9d9", "tickBand": "extent", "tickSize": 6, "grid": true, "gridColor": "#e3e3e3", "labelPadding": 8, "labelFont": "DejaVu Sans Mono", "labelFontWeight": "bold", "labelFontSize": 11.5, "labelColor": "#222222"}},
                    "y": {"field": "n", "type": "quantitative", "stack": "zero", "axis": null, "scale": {"domain": [0, 178], "range": [290, 98], "nice": false}},
                    "order": {"field": "k", "type": "quantitative", "sort": "ascending"},
                    "color": {"field": "c", "type": "nominal",
                      "scale": {"domain": ["상승", "보합", "하락"], "range": ["#ff7c80", "#7f7f7f", "#0b63b4"]},
                      "legend": {"orient": "none", "legendX": 272, "legendY": 66, "direction": "horizontal", "title": null, "symbolType": "square", "symbolSize": 49, "labelFontSize": 14.5, "labelColor": "#333333", "columnPadding": 12, "labelOffset": 3}}
                  },
                  "layer": [
                    {"mark": {"type": "bar"}},
                    {"mark": {"type": "text", "baseline": "middle", "fontSize": 16, "fontWeight": "bold", "font": "Roboto"},
                      "encoding": {"y": {"field": "n", "type": "quantitative", "stack": "zero", "bandPosition": 0.5}, "text": {"field": "n"}, "fill": {"value": "#ffffff"}}}
                  ]
                }
              ]
            },
            {
              "width": 448, "height": 339,
              "resolve": {"scale": {"x": "independent", "y": "independent"}},
              "layer": [
                {
                  "data": {"values": [{"b": "t", "title": "아파트 전세가격 변동 지역분포 추이"}]},
                  "encoding": {
                    "x": {"field": "b", "type": "nominal", "axis": null, "scale": {"range": [3.7, 446], "paddingInner": 0, "paddingOuter": 0}},
                    "y": {"field": "b", "type": "nominal", "axis": null, "scale": {"range": [16, 59], "paddingInner": 0, "paddingOuter": 0}}
                  },
                  "layer": [
                    {"mark": {"type": "rect", "color": "#f2f2f2"}},
                    {"mark": {"type": "text", "align": "left", "baseline": "middle", "dx": 10, "fontSize": 19.5, "fontWeight": "bold", "color": "#404040"}, "encoding": {"x": {"field": "b", "type": "nominal", "axis": null, "bandPosition": 0}, "text": {"field": "title"}}}
                  ]
                },
                {
                  "data": {"name": "p6"},
                  "transform": [{"window": [{"op": "row_number", "as": "k"}], "groupby": ["d"]}],
                  "encoding": {
                    "x": {"field": "d", "type": "ordinal", "title": null,
                      "scale": {"range": [16.7, 433.3], "paddingInner": 0.45, "paddingOuter": 0.225},
                      "axis": {"orient": "bottom", "offset": -48.3, "labelAngle": 0, "domainColor": "#d9d9d9", "tickColor": "#d9d9d9", "tickBand": "extent", "tickSize": 6, "grid": true, "gridColor": "#e3e3e3", "labelPadding": 8, "labelFont": "DejaVu Sans Mono", "labelFontWeight": "bold", "labelFontSize": 11.5, "labelColor": "#222222"}},
                    "y": {"field": "n", "type": "quantitative", "stack": "zero", "axis": null, "scale": {"domain": [0, 178], "range": [290.7, 101.3], "nice": false}},
                    "order": {"field": "k", "type": "quantitative", "sort": "ascending"},
                    "color": {"field": "c", "type": "nominal",
                      "scale": {"domain": ["상승", "보합", "하락"], "range": ["#ff7c80", "#7f7f7f", "#0b63b4"]},
                      "legend": {"orient": "none", "legendX": 262, "legendY": 66, "direction": "horizontal", "title": null, "symbolType": "square", "symbolSize": 49, "labelFontSize": 14.5, "labelColor": "#333333", "columnPadding": 14, "labelOffset": 3}}
                  },
                  "layer": [
                    {"mark": {"type": "bar"}},
                    {"mark": {"type": "text", "baseline": "middle", "fontSize": 16, "fontWeight": "bold", "font": "Roboto"},
                      "encoding": {"y": {"field": "n", "type": "quantitative", "stack": "zero", "bandPosition": 0.5}, "text": {"field": "n"}, "fill": {"value": "#ffffff"}}}
                  ]
                }
              ]
            }
          ]
        },
        {
          "width": 897, "height": 338,
          "resolve": {"scale": {"x": "independent", "y": "independent"}},
          "layer": [
            {
              "data": {"values": [{"b": "t", "title": "전국 아파트 매매 · 전세가격지수 추이"}]},
              "encoding": {
                "x": {"field": "b", "type": "nominal", "axis": null, "scale": {"range": [3.5, 893], "paddingInner": 0, "paddingOuter": 0}},
                "y": {"field": "b", "type": "nominal", "axis": null, "scale": {"range": [16, 52], "paddingInner": 0, "paddingOuter": 0}}
              },
              "layer": [
                {"mark": {"type": "rect", "color": "#f2f2f2"}},
                {"mark": {"type": "text", "align": "left", "baseline": "middle", "dx": 9, "dy": -6, "fontSize": 19.5, "fontWeight": "bold", "color": "#404040"}, "encoding": {"x": {"field": "b", "type": "nominal", "axis": null, "bandPosition": 0}, "text": {"field": "title"}}}
              ]
            },
            {
              "data": {"name": "bars"},
              "mark": {"type": "tick", "orient": "vertical", "size": 5, "thickness": 1.3, "color": "#8c8c8c", "yOffset": 2.5, "opacity": 1},
              "encoding": {
                "x": {"field": "d", "type": "temporal", "axis": null,
                  "scale": {"type": "utc", "domain": [{"year": 2012, "month": 5, "date": 7, "utc": true}, {"year": 2024, "month": 8, "date": 26, "utc": true}], "range": [52, 846]}},
                "y": {"datum": 0, "type": "quantitative", "scale": {"domain": [-1, 0.4], "range": [288.3, 104.7], "nice": false, "zero": false},
                  "axis": {"orient": "left", "offset": -52, "values": [-0.9, -0.7, -0.5, -0.3, -0.1, 0.1, 0.3], "format": ".2f", "title": null, "grid": false, "ticks": false, "domain": false, "labelOverlap": false, "labelPadding": 18, "labelFontSize": 11, "labelColor": "#666666"}}
              }
            },
            {
              "data": {"name": "bars"},
              "encoding": {
                "x": {"field": "d", "type": "temporal", "title": null,
                  "scale": {"type": "utc", "domain": [{"year": 2012, "month": 5, "date": 7, "utc": true}, {"year": 2024, "month": 8, "date": 26, "utc": true}], "range": [52, 846]},
                  "axis": {"orient": "bottom", "offset": -49.7, "domain": false, "ticks": false, "grid": false, "labelPadding": 12, "labelFont": "Open Sans", "labelFontWeight": "bold", "labelFontSize": 13, "labelColor": "#1a1a1a", "labelAngle": 0, "labelOverlap": false,
                    "values": [
                      {"year": 2012, "month": 5, "date": 7, "utc": true}, {"year": 2013, "month": 5, "date": 6, "utc": true}, {"year": 2014, "month": 5, "date": 5, "utc": true},
                      {"year": 2015, "month": 5, "date": 4, "utc": true}, {"year": 2016, "month": 5, "date": 2, "utc": true}, {"year": 2017, "month": 5, "date": 1, "utc": true},
                      {"year": 2018, "month": 5, "date": 7, "utc": true}, {"year": 2019, "month": 5, "date": 6, "utc": true}, {"year": 2020, "month": 5, "date": 4, "utc": true},
                      {"year": 2021, "month": 5, "date": 3, "utc": true}, {"year": 2022, "month": 5, "date": 2, "utc": true}, {"year": 2023, "month": 5, "date": 1, "utc": true},
                      {"year": 2024, "month": 4, "date": 29, "utc": true}
                    ],
                    "labelExpr": "\"'\" + utcFormat(datum.value, '%y') + '.' + (utcmonth(datum.value) + 1) + '.' + utcdate(datum.value)"}}
              },
              "layer": [
                {
                  "mark": {"type": "bar", "width": 4.2},
                  "encoding": {
                    "y": {"field": "s", "type": "quantitative", "title": "(%)", "scale": {"domain": [-1, 0.4], "range": [288.3, 104.7], "nice": false, "zero": false},
                      "axis": {"orient": "left", "offset": -52, "values": [-1, -0.8, -0.6, -0.4, -0.2, 0, 0.2, 0.4], "format": ".2f", "grid": false, "ticks": false, "labelOverlap": false,
                        "domainColor": "#a6a6a6", "domainWidth": 1.5, "labelPadding": 18, "labelFontSize": 11, "labelColor": "#666666",
                        "titleAngle": 0, "titleAlign": "left", "titleBaseline": "middle", "titleX": -38, "titleY": 82, "titleFontSize": 10, "titleFontWeight": "normal", "titleColor": "#808080", "titleFont": "Roboto"}},
                    "color": {"datum": "매매가격변동률(좌)", "scale": {"domain": ["매매가격변동률(좌)", "전세가격변동률(좌)"], "range": ["#27a3d8", "#f05656"]},
                      "legend": {"orient": "none", "legendX": 309, "legendY": 54, "direction": "horizontal", "title": null, "symbolType": "M-1,-0.28H1V0.28H-1Z", "symbolSize": 615, "labelFontSize": 13, "labelColor": "#222222", "columnPadding": 20, "labelOffset": 1}}
                  }
                },
                {
                  "mark": {"type": "bar", "width": 4.2, "opacity": 0.92},
                  "encoding": {
                    "y": {"field": "j", "type": "quantitative"},
                    "color": {"datum": "전세가격변동률(좌)"}
                  }
                }
              ]
            },
            {
              "data": {"name": "idx"},
              "encoding": {
                "x": {"field": "d", "type": "temporal", "axis": null,
                  "scale": {"type": "utc", "domain": [{"year": 2012, "month": 5, "date": 7, "utc": true}, {"year": 2024, "month": 8, "date": 26, "utc": true}], "range": [52, 846]}}
              },
              "layer": [
                {
                  "mark": {"type": "line", "strokeWidth": 2, "interpolate": "monotone"},
                  "encoding": {
                    "y": {"field": "ji", "type": "quantitative", "title": null, "scale": {"domain": [0, 120], "range": [288.3, 104.7], "nice": false, "zero": false},
                      "axis": {"orient": "right", "offset": -51, "values": [0, 20, 40, 60, 80, 100, 120], "format": ".1f", "grid": false, "ticks": false, "labelOverlap": false, "domainColor": "#a6a6a6", "domainWidth": 1.5, "labelPadding": 13.5, "labelFontSize": 11, "labelColor": "#666666"}},
                    "stroke": {"datum": "전세가격지수(우)", "scale": {"domain": ["매매가격지수(우)", "전세가격지수(우)"], "range": ["#1a1aa6", "#a31818"]},
                      "legend": {"orient": "none", "legendX": 617, "legendY": 54, "direction": "horizontal", "title": null, "symbolType": "stroke", "symbolSize": 529, "symbolStrokeWidth": 2.5, "labelFontSize": 13, "labelColor": "#222222", "columnPadding": 12, "labelOffset": 1}}
                  }
                },
                {
                  "mark": {"type": "line", "strokeWidth": 2.8, "interpolate": "monotone"},
                  "encoding": {
                    "y": {"field": "si", "type": "quantitative"},
                    "stroke": {"datum": "매매가격지수(우)"}
                  }
                }
              ]
            }
          ]
        }
      ]
    }
  ]
}
